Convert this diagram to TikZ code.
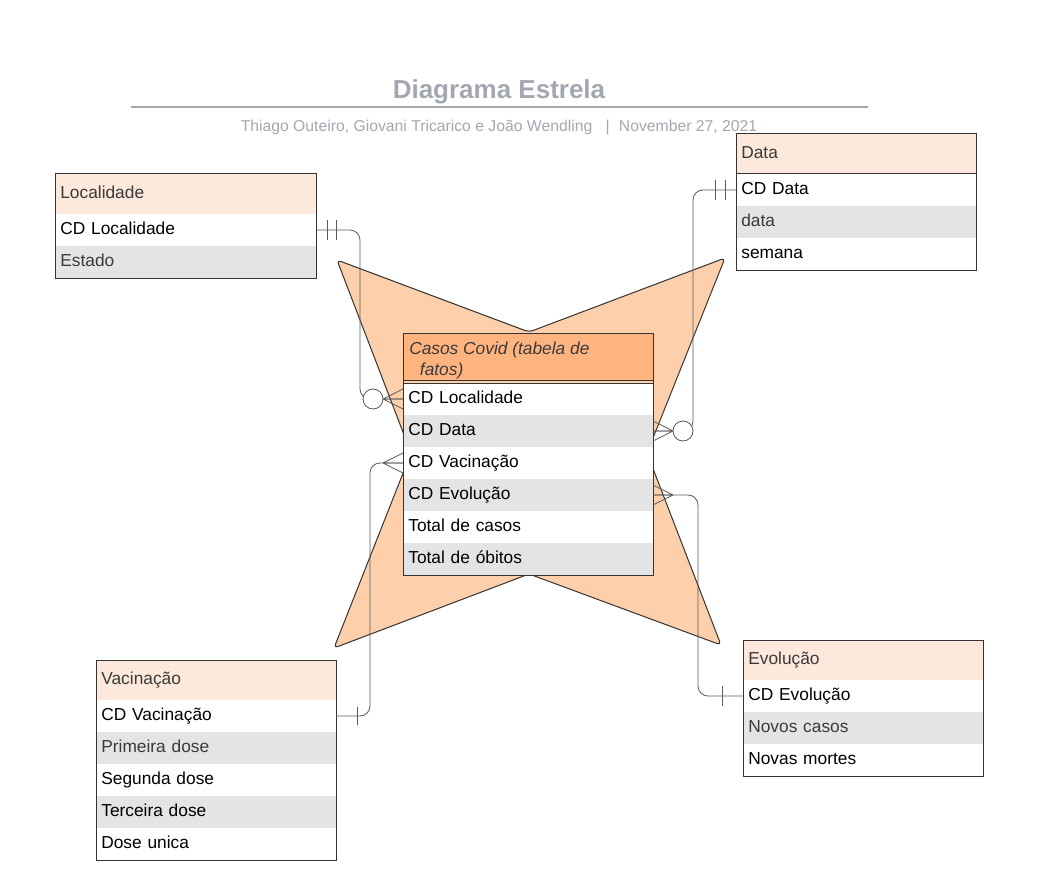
\documentclass[tikz,border=0pt]{standalone}
\usepackage{fontspec}
\setmainfont{Liberation Sans}
\usetikzlibrary{calc}
\definecolor{cab}{HTML}{FDE9DC}
\definecolor{cabfato}{HTML}{FFB480}
\definecolor{corestr}{HTML}{FDD0AB}
\definecolor{cinza}{HTML}{E4E4E4}
\definecolor{borda}{HTML}{333333}
\definecolor{corlig}{HTML}{5A5A5A}
\definecolor{cortit}{HTML}{A3A7B0}
\definecolor{cortxt}{HTML}{3A3A3A}
\begin{document}
\begin{tikzpicture}[x=0.75pt, y=-0.75pt,
    hdr/.style={anchor=north west, draw=borda, line width=0.75pt, fill=cab, text=cortxt,
      inner xsep=4pt, inner ysep=0pt, outer sep=0pt, minimum height=30pt, text width=#1,
      text height=9.5pt, text depth=2.5pt, align=left, font=\fontsize{13}{15.75}\selectfont},
    fld/.style={anchor=north west, fill=white, text=black, inner xsep=4pt, inner ysep=0pt,
      outer sep=0pt, minimum height=24pt, text width=#1, text height=9.5pt, text depth=2.5pt,
      align=left, font=\fontsize{13}{15.75}\selectfont},
    fldg/.style={fld=#1, fill=cinza},
    contorno/.style={draw=borda, line width=0.75pt},
    lig/.style={draw=corlig, line width=0.6pt},
    estrela/.style={draw=borda, fill=corestr, line width=0.75pt, rounded corners=3pt}]

    \useasboundingbox (0,0) rectangle (1051,881);

    % titulo
    \node[text=cortit, font=\fontsize{19.5}{22}\selectfont\bfseries] (tit) at (499,92) {Diagrama Estrela};
    \draw[cortit, line width=1.5pt] (131,107) -- (868,107);
    \node[text=cortit, font=\fontsize{11.8}{14}\selectfont] (sub) at (499,127)
        {Thiago Outeiro, Giovani Tricarico e João Wendling\hspace{10pt}|\hspace{7pt}November 27, 2021};

    % estrela ao fundo
    \draw[estrela] (337,260) -- (529,332) -- (725,258) -- (647,453) -- (721,645)
        -- (529,574) -- (334,648) -- (411,453) -- cycle;

    % Localidade
    \node[hdr=187.75pt] (loc) at (55,174) {Localidade};
    \node[fld=187.75pt] (loc-cd) at (loc.south west) {CD Localidade};
    \node[fldg=187.75pt, text=cortxt] (loc-est) at (loc-cd.south west) {Estado};
    \draw[contorno] (loc.north west) rectangle (loc-est.south east);

    % Data
    \node[hdr=172pt] (dat) at (736,134) {Data};
    \node[fld=172pt] (dat-cd) at (dat.south west) {CD Data};
    \node[fldg=172pt, text=cortxt] (dat-dt) at (dat-cd.south west) {data};
    \node[fld=172pt] (dat-sem) at (dat-dt.south west) {semana};
    \draw[contorno] (dat.north west) rectangle (dat-sem.south east);

    % tabela de fatos
    \node[hdr=179.5pt, fill=cabfato, minimum height=35.25pt] (fato) at (403,333) {};
    \node[anchor=north west, align=left, inner sep=0pt, text=cortxt,
          font=\fontsize{13}{15.75}\selectfont\itshape] (fato-t) at ($(fato.north west)+(6,9)$)
        {Casos Covid (tabela de\\\hspace*{8pt}fatos)};
    \node[fld=179.5pt] (f-loc) at ([yshift=-2.25pt]fato.south west) {CD Localidade};
    \node[fldg=179.5pt] (f-dat) at (f-loc.south west) {CD Data};
    \node[fld=179.5pt] (f-vac) at (f-dat.south west) {CD Vacinação};
    \node[fldg=179.5pt] (f-evo) at (f-vac.south west) {CD Evolução};
    \node[fld=179.5pt] (f-cas) at (f-evo.south west) {Total de casos};
    \node[fldg=179.5pt] (f-obi) at (f-cas.south west) {Total de óbitos};
    \draw[contorno] (fato.north west) rectangle (f-obi.south east);
    \draw[contorno] (f-loc.north west) -- (f-loc.north east);

    % Vacinacao
    \node[hdr=172pt] (vac) at (96,660) {Vacinação};
    \node[fld=172pt] (vac-cd) at (vac.south west) {CD Vacinação};
    \node[fldg=172pt, text=cortxt] (vac-1) at (vac-cd.south west) {Primeira dose};
    \node[fld=172pt] (vac-2) at (vac-1.south west) {Segunda dose};
    \node[fldg=172pt] (vac-3) at (vac-2.south west) {Terceira dose};
    \node[fld=172pt] (vac-u) at (vac-3.south west) {Dose unica};
    \draw[contorno] (vac.north west) rectangle (vac-u.south east);

    % Evolucao
    \node[hdr=172pt] (evo) at (743,640) {Evolução};
    \node[fld=172pt] (evo-cd) at (evo.south west) {CD Evolução};
    \node[fldg=172pt, text=cortxt] (evo-nc) at (evo-cd.south west) {Novos casos};
    \node[fld=172pt] (evo-nm) at (evo-nc.south west) {Novas mortes};
    \draw[contorno] (evo.north west) rectangle (evo-nm.south east);

    % ligacoes
    \draw[lig, rounded corners=7.5pt] (loc-cd.east) -- ++(44,0) |- (f-loc.west);
    \draw[lig, rounded corners=7.5pt] (dat-cd.west) -- ++(-43,0) |- (f-dat.east);
    \draw[lig, rounded corners=7.5pt] (vac-cd.east) -- ++(34,0) |- (f-vac.west);
    \draw[lig, rounded corners=7.5pt] (evo-cd.west) -- ++(-45,0) |- (f-evo.east);

    % lado "um"
    \draw[lig] ($(loc-cd.east)+(11,-10)$) -- ++(0,20) ($(loc-cd.east)+(20,-10)$) -- ++(0,20);
    \draw[lig] ($(dat-cd.west)+(-11,-10)$) -- ++(0,20) ($(dat-cd.west)+(-21,-10)$) -- ++(0,20);
    \draw[lig] ($(vac-cd.east)+(21,-9)$) -- ++(0,18);
    \draw[lig] ($(evo-cd.west)+(-21,-10)$) -- ++(0,20);

    % lado "muitos"
    \foreach \p/\s in {f-loc.west/-1, f-dat.east/1, f-vac.west/-1, f-evo.east/1}
        \draw[lig] ($(\p)+(\s*20,0)$) -- ($(\p)+(0,-10)$)
                   ($(\p)+(\s*20,0)$) -- (\p)
                   ($(\p)+(\s*20,0)$) -- ($(\p)+(0,10)$);
    \draw[lig, fill=white] ($(f-loc.west)+(-30,0)$) circle (7.5pt);
    \draw[lig, fill=white] ($(f-dat.east)+(30,0)$) circle (7.5pt);
\end{tikzpicture}
\end{document}
